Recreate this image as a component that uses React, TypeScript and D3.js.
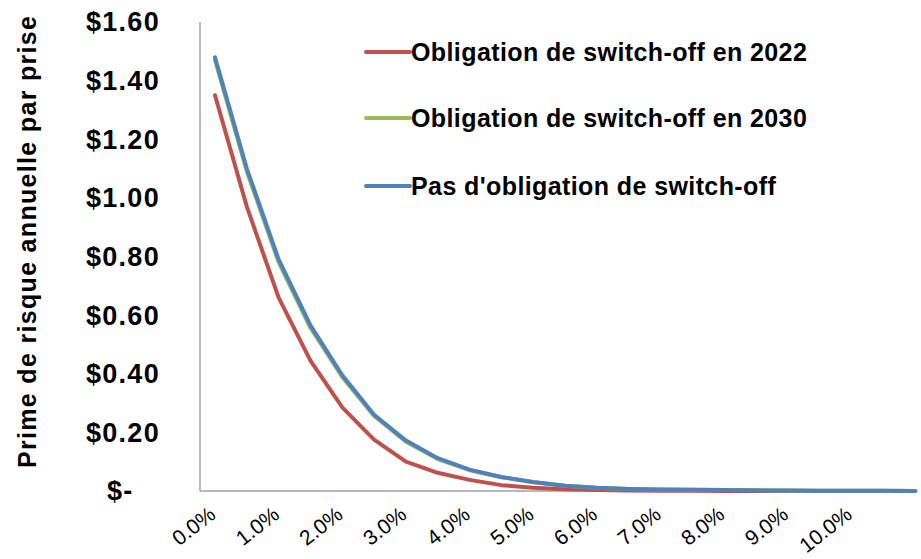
import React from "react";
import * as d3 from "d3";

const categories = ["0.0%","0.5%","1.0%","1.5%","2.0%","2.5%","3.0%","3.5%","4.0%","4.5%","5.0%","5.5%","6.0%","6.5%","7.0%","7.5%","8.0%","8.5%","9.0%","9.5%","10.0%","10.5%","11.0%"];
const tickLabels = ["0.0%","1.0%","2.0%","3.0%","4.0%","5.0%","6.0%","7.0%","8.0%","9.0%","10.0%"];
const yTicks = [0, 0.2, 0.4, 0.6, 0.8, 1.0, 1.2, 1.4, 1.6];

const series2022 = [1.35, 0.97, 0.66, 0.445, 0.285, 0.175, 0.10, 0.062, 0.038, 0.02, 0.011, 0.006, 0.003, 0.002, 0.001, 0.001, 0.0, 0.0, 0.0, 0.0, 0.0, 0.0, 0.0];
const series2030 = [1.47, 1.09, 0.78, 0.556, 0.388, 0.256, 0.168, 0.109, 0.071, 0.047, 0.030, 0.018, 0.011, 0.007, 0.005, 0.004, 0.003, 0.003, 0.002, 0.001, 0.001, 0.001, 0.0];
const seriesNone = [1.48, 1.10, 0.79, 0.565, 0.395, 0.26, 0.172, 0.112, 0.073, 0.048, 0.031, 0.018, 0.011, 0.007, 0.005, 0.004, 0.003, 0.002, 0.002, 0.001, 0.001, 0.001, 0.0];

const seriesNames = ["Obligation de switch-off en 2022", "Obligation de switch-off en 2030", "Pas d'obligation de switch-off"];
const seriesColors = ["#C0504D", "#9BBB59", "#4F81BD"];

export default function App() {
  const W = 921, H = 559;
  const left = 200, right = 918, top = 22, bottom = 491;
  const x = d3.scalePoint<string>().domain(categories).range([215, 915]);
  const y = d3.scaleLinear().domain([0, 1.6]).range([bottom, top]);
  const line = d3.line<number>().x((_, i) => x(categories[i]) as number).y(d => y(d));
  const all = [series2022, series2030, seriesNone];
  const fmt = (v: number) => (v === 0 ? "$-\u00a0\u00a0\u00a0" : "$" + v.toFixed(2));
  const font = "'Liberation Sans', Arial, sans-serif";
  const legendY = [52, 118, 186];
  return (
    <svg width={W} height={H} style={{ position: "absolute", left: 0, top: 0, background: "#fff" }}>
      <line x1={left} y1={top} x2={left} y2={bottom} stroke="#A0A0A0" strokeWidth={1.5} />
      <line x1={left} y1={bottom} x2={right} y2={bottom} stroke="#A0A0A0" strokeWidth={1.5} />
      {yTicks.map(t => (
        <text key={t} x={160} y={y(t)} dy="0.35em" textAnchor="end" fontFamily={font} fontWeight="bold" fontSize={27} letterSpacing={1.3} fill="#000">{fmt(t)}</text>
      ))}
      <text transform={`translate(36,242) rotate(-90)`} textAnchor="middle" fontFamily={font} fontWeight="bold" fontSize={25} textLength={452} lengthAdjust="spacing" fill="#000">Prime de risque annuelle par prise</text>
      {tickLabels.map(l => {
        const px = x(l) as number;
        return (
          <text key={l} transform={`translate(${px + 2},${bottom + 26}) rotate(-38)`} textAnchor="end" fontFamily={font} fontSize={21} fill="#000">{l}</text>
        );
      })}
      {all.map((s, i) => (
        <path key={i} d={line(s) || ""} fill="none" stroke={seriesColors[i]} strokeWidth={4} strokeLinejoin="round" strokeLinecap="round" />
      ))}
      {seriesNames.map((n, i) => (
        <g key={n}>
          <line x1={366} x2={410} y1={legendY[i]} y2={legendY[i]} stroke={seriesColors[i]} strokeWidth={4} strokeLinecap="round" />
          <text x={411} y={legendY[i]} dy="0.35em" fontFamily={font} fontWeight="bold" fontSize={25} letterSpacing={0.4} fill="#000">{n}</text>
        </g>
      ))}
    </svg>
  );
}
